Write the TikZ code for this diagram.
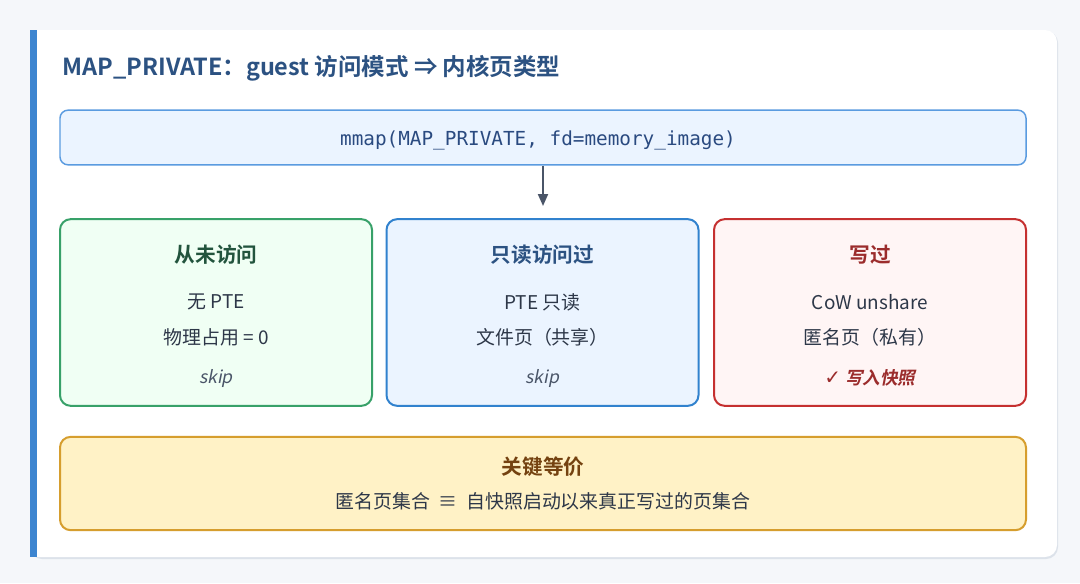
\documentclass[tikz,border=0pt]{standalone}
\usepackage{fontspec}
\setmainfont{Noto Sans CJK SC}[BoldFont={* Bold},ItalicFont={*},ItalicFeatures={FakeSlant=0.2},BoldItalicFont={* Bold},BoldItalicFeatures={FakeSlant=0.2}]
\newfontfamily\codefont{DejaVu Sans Mono}
\newfontfamily\symfont{DejaVu Sans}
\usetikzlibrary{arrows.meta}
\definecolor{pagebg}{HTML}{F5F7FA}
\definecolor{cardline}{HTML}{DCE2EA}
\definecolor{barblue}{HTML}{3D85D0}
\definecolor{titleblue}{HTML}{2C5282}
\definecolor{mmapfill}{HTML}{EBF4FF}
\definecolor{mmapline}{HTML}{5A9BE0}
\definecolor{mmaptext}{HTML}{2A4A80}
\definecolor{arrowgray}{HTML}{4A5568}
\definecolor{greenline}{HTML}{38A169}
\definecolor{greenfill}{HTML}{F0FFF4}
\definecolor{greentext}{HTML}{22543D}
\definecolor{blueline}{HTML}{3182CE}
\definecolor{bluefill}{HTML}{EBF4FF}
\definecolor{redline}{HTML}{C53030}
\definecolor{redfill}{HTML}{FFF5F5}
\definecolor{redtext}{HTML}{9B2C2C}
\definecolor{bodytext}{HTML}{2D3748}
\definecolor{yellowline}{HTML}{D69E2E}
\definecolor{yellowfill}{HTML}{FFF2C6}
\definecolor{browntext}{HTML}{744210}
\begin{document}
\begin{tikzpicture}[x=0.75pt,y=-0.75pt,
    statebox/.style={draw,line width=1.5pt,rounded corners=8pt,minimum width=234pt,minimum height=140pt,inner sep=0pt},
    boxtitle/.style={font=\fontsize{15.5}{18}\selectfont\bfseries},
    boxline/.style={font=\fontsize{14.2}{17}\selectfont,text=bodytext},
    boxnote/.style={font=\fontsize{13.2}{15}\selectfont\itshape,text=arrowgray}]
    \useasboundingbox[fill=pagebg] (0,0) rectangle (1080,583);
    \fill[cardline,rounded corners=9pt] (30,31) rectangle (1058,559);
    \fill[white] (30,30) [rounded corners=9pt] -- (1057,30) -- (1057,557) [sharp corners] -- (30,557) -- cycle;
    \fill[barblue] (30,30) rectangle (37,557);
    \node[anchor=west,text=titleblue,font=\fontsize{17.6}{20}\selectfont\bfseries] (title) at (58,68) {MAP\_PRIVATE：guest 访问模式 ⇒ 内核页类型};
    \node[draw=mmapline,fill=mmapfill,line width=1.1pt,rounded corners=6pt,minimum width=724.5pt,minimum height=41pt] (mmap) at (543,137.5) {};
    \node[text=mmaptext,font=\codefont\fontsize{14.5}{17}\selectfont] (mmapt) at (538,140) {mmap(MAP\_PRIVATE, fd=memory\_image)};
    \coordinate (tip) at (543,206);
    \draw[arrowgray,line width=1.5pt,-{Triangle[length=9pt,width=7.5pt]}] (mmap.south) -- (tip);
    \node[statebox,draw=greenline,fill=greenfill] (never) at (216,312.5) {};
    \node[statebox,draw=blueline,fill=bluefill] (ro) at (542.5,312.5) {};
    \node[statebox,draw=redline,fill=redfill] (written) at (870,312.5) {};
    \node[boxtitle,text=greentext] (nevert) at (216,255) {从未访问};
    \node[boxline] (never1) at (216,302) {无 PTE};
    \node[boxline] (never2) at (216,337) {物理占用 = 0};
    \node[boxnote] (never3) at (216,378) {skip};
    \node[boxtitle,text=titleblue] (rot) at (542.5,255) {只读访问过};
    \node[boxline] (ro1) at (542.5,302) {PTE 只读};
    \node[boxline] (ro2) at (542.5,337) {文件页（共享）};
    \node[boxnote] (ro3) at (542.5,378) {skip};
    \node[boxtitle,text=redtext] (writtent) at (870,255) {写过};
    \node[boxline] (written1) at (870,302) {CoW unshare};
    \node[boxline] (written2) at (870,337) {匿名页（私有）};
    \node[boxnote,text=redtext,font=\fontsize{13.2}{15}\selectfont\bfseries\itshape] (written3) at (870,378) {{\symfont\bfseries\fontsize{15}{15}\selectfont ✓} 写入快照};
    \node[draw=yellowline,fill=yellowfill,line width=1.5pt,rounded corners=8pt,minimum width=724.5pt,minimum height=70pt] (key) at (543,483.5) {};
    \node[boxtitle,text=browntext] (keyt) at (543,467) {关键等价};
    \node[boxline] (key1) at (543,501) {匿名页集合\hspace{0.45em}≡\hspace{0.45em}自快照启动以来真正写过的页集合};
\end{tikzpicture}
\end{document}
